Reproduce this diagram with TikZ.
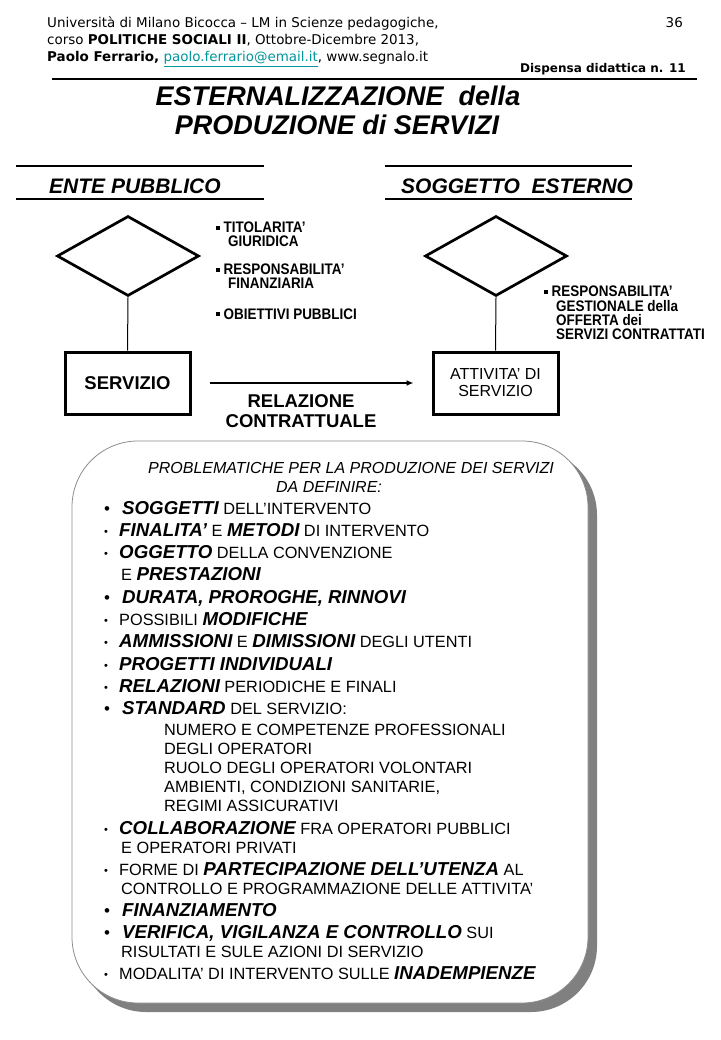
\documentclass[tikz,border=0pt]{standalone}
\usepackage{fontspec}
\setmainfont{Liberation Sans}
\newfontfamily\hdrfont{DejaVu Sans}
\newfontfamily\narrowfont[FakeStretch=0.88]{Liberation Sans}
\usetikzlibrary{shapes.geometric,arrows.meta}
\definecolor{linkteal}{RGB}{0,150,155}
\definecolor{shadowgray}{RGB}{128,128,128}
\definecolor{bordergray}{RGB}{140,140,140}
\newcommand\Emph[1]{{\fontsize{18.7}{20}\selectfont\bfseries\itshape #1}}
\newcommand\BigB{\makebox[18pt][l]{\fontsize{17}{17}\selectfont •}}
\newcommand\SmB{\makebox[15pt][l]{\fontsize{11}{11}\selectfont\raisebox{1.5pt}{•}}}
\newcommand\Sq{\rule[3pt]{3.5pt}{3.5pt}\hspace{4pt}}
\tikzset{
  hdr/.style={anchor=base west, inner sep=0, font=\hdrfont\fontsize{13.45}{15}\selectfont},
  item/.style={anchor=base west, inner sep=0, font=\fontsize{16.3}{18}\selectfont},
  nar/.style={anchor=base west, inner sep=0, font=\narrowfont\bfseries\fontsize{15.3}{17}\selectfont},
  ttl/.style={anchor=base, inner sep=0, font=\bfseries\itshape\fontsize{27}{30}\selectfont},
  sect/.style={anchor=base west, inner sep=0, font=\bfseries\itshape\fontsize{21}{24}\selectfont},
  boxn/.style={draw, line width=3pt, minimum width=125pt, minimum height=62pt, inner sep=0, align=center},
  dia/.style={draw, diamond, line width=2.7pt, minimum width=142pt, minimum height=80pt, inner sep=0},
  thinline/.style={line width=1pt},
  hrule/.style={line width=1.2pt},
}
\begin{document}
\begin{tikzpicture}[x=1pt,y=-1pt]
\useasboundingbox (0,0) rectangle (720,1040);
\fill[white] (0,0) rectangle (720,1040);

% header
\node[hdr] (h1) at (47,27.7) {Università di Milano Bicocca – LM in Scienze pedagogiche,};
\node[hdr] (h2) at (47,44.7) {corso \textbf{POLITICHE SOCIALI II}, Ottobre-Dicembre 2013,};
\node[hdr] (h3) at (47,61.7) {\textbf{Paolo Ferrario,} \textcolor{linkteal}{\underline{paolo.ferrario@email.it}}, www.segnalo.it};
\node[hdr, anchor=base east] (pg) at (683,27.7) {36};
\node[hdr, anchor=base east, font=\hdrfont\bfseries\fontsize{12}{14}\selectfont] (disp) at (686,72.3) {Dispensa didattica n. 11};
\draw[hrule] (52,79) -- (697,79);

% title
\node[ttl] (t1) at (338,105.7) {ESTERNALIZZAZIONE\ \ della};
\node[ttl] (t2) at (337,134.7) {PRODUZIONE di SERVIZI};

% section headers
\draw[hrule] (16,166) -- (264,166);
\draw[hrule] (16,199) -- (264,199);
\draw[hrule] (385,166) -- (632,166);
\draw[hrule] (385,199) -- (632,199);
\node[sect] (ente) at (49,193.5) {ENTE PUBBLICO};
\node[sect] (sogg) at (401,193.5) {SOGGETTO\ \ ESTERNO};

% diamonds and boxes
\node[dia] (dL) at (128,256) {};
\node[dia] (dR) at (496,256) {};
\node[boxn, font=\bfseries\fontsize{18.5}{20}\selectfont] (serv) at (127.5,383) {SERVIZIO};
\node[boxn, font=\fontsize{16}{17}\selectfont] (att) at (495.5,383) {ATTIVITA’ DI\\SERVIZIO};
\draw[thinline] (dL.south) -- (serv.north);
\draw[thinline] (dR.south) -- (att.north);
\draw[line width=1.5pt, -{Latex[length=7pt,width=6pt]}] ([xshift=18pt]serv.east) -- ([xshift=-18pt]att.west);
\node[anchor=center, inner sep=0, align=center, font=\bfseries\fontsize{18.5}{20}\selectfont] (rel) at (301,411) {RELAZIONE\\CONTRATTUALE};

% left notes
\node[nar] (l1) at (216,233) {\Sq TITOLARITA’};
\node[nar] (l1b) at (228,247) {GIURIDICA};
\node[nar] (l2) at (216,275) {\Sq RESPONSABILITA’};
\node[nar] (l2b) at (228,289) {FINANZIARIA};
\node[nar] (l3) at (216,319) {\Sq OBIETTIVI PUBBLICI};

% right notes
\node[nar] (r1) at (544,297) {\Sq RESPONSABILITA’};
\node[nar] (r2) at (556,311) {GESTIONALE della};
\node[nar] (r3) at (556,325) {OFFERTA dei};
\node[nar] (r4) at (556,339) {SERVIZI CONTRATTATI};

% rounded box with shadow
\fill[shadowgray, rounded corners=66pt] (80,449) rectangle (597,1012);
\draw[bordergray, line width=0.8pt, fill=white, rounded corners=66pt] (72,441) rectangle (588,1003);

\node[item, font=\itshape\fontsize{16}{18}\selectfont] (p1) at (148,473) {PROBLEMATICHE PER LA PRODUZIONE DEI SERVIZI};
\node[item, anchor=base, font=\itshape\fontsize{16}{18}\selectfont] (p2) at (329,492) {DA DEFINIRE:};

\node[item] (i1) at (104,514.5) {\BigB\Emph{SOGGETTI} DELL’INTERVENTO};
\node[item] (i2) at (104,536.5) {\SmB\Emph{FINALITA’} E \Emph{METODI} DI INTERVENTO};
\node[item] (i3) at (104,558.5) {\SmB\Emph{OGGETTO} DELLA CONVENZIONE};
\node[item] (i3b) at (121,580.5) {E \Emph{PRESTAZIONI}};
\node[item] (i4) at (104,603.5) {\BigB\Emph{DURATA, PROROGHE, RINNOVI}};
\node[item] (i5) at (104,625.5) {\SmB POSSIBILI \Emph{MODIFICHE}};
\node[item] (i6) at (104,647.5) {\SmB\Emph{AMMISSIONI} E \Emph{DIMISSIONI} DEGLI UTENTI};
\node[item] (i7) at (104,670.5) {\SmB\Emph{PROGETTI INDIVIDUALI}};
\node[item] (i8) at (104,692.5) {\SmB\Emph{RELAZIONI} PERIODICHE E FINALI};
\node[item] (i9) at (104,714.5) {\BigB\Emph{STANDARD} DEL SERVIZIO:};
\node[item] (s1) at (164,735) {NUMERO E COMPETENZE PROFESSIONALI};
\node[item] (s2) at (164,754) {DEGLI OPERATORI};
\node[item] (s3) at (164,773) {RUOLO DEGLI OPERATORI VOLONTARI};
\node[item] (s4) at (164,792) {AMBIENTI, CONDIZIONI SANITARIE,};
\node[item] (s5) at (164,811) {REGIMI ASSICURATIVI};
\node[item] (i10) at (104,834.5) {\SmB\Emph{COLLABORAZIONE} FRA OPERATORI PUBBLICI};
\node[item] (i10b) at (121,853) {E OPERATORI PRIVATI};
\node[item] (i11) at (104,875.5) {\SmB FORME DI \Emph{PARTECIPAZIONE DELL’UTENZA} AL};
\node[item] (i11b) at (121,894) {CONTROLLO E PROGRAMMAZIONE DELLE ATTIVITA’};
\node[item] (i12) at (104,916.5) {\BigB\Emph{FINANZIAMENTO}};
\node[item] (i13) at (104,938.5) {\BigB\Emph{VERIFICA, VIGILANZA E CONTROLLO} SUI};
\node[item] (i13b) at (121,957) {RISULTATI E SULE AZIONI DI SERVIZIO};
\node[item] (i14) at (104,979.5) {\SmB MODALITA’ DI INTERVENTO SULLE \Emph{INADEMPIENZE}};
\end{tikzpicture}
\end{document}
